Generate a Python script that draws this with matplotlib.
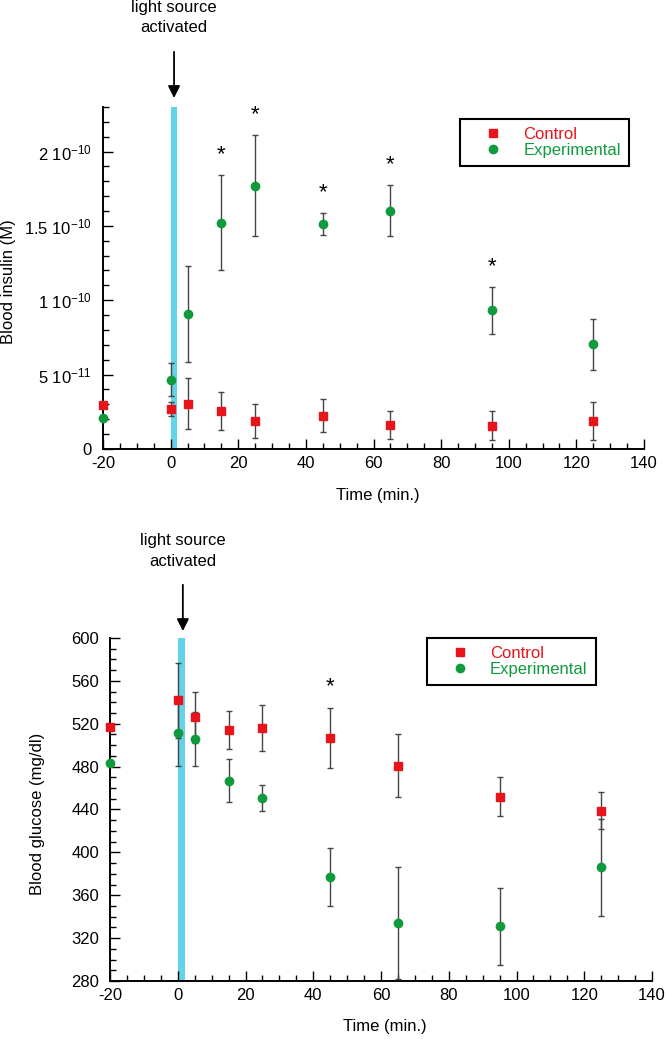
import matplotlib
matplotlib.use("Agg")
import matplotlib.pyplot as plt
from matplotlib.lines import Line2D
from matplotlib.ticker import FixedLocator, FixedFormatter, MultipleLocator

plt.rcParams['font.family'] = ['Liberation Sans', 'DejaVu Sans']
plt.rcParams['mathtext.fontset'] = 'custom'
plt.rcParams['mathtext.rm'] = 'Liberation Sans'
plt.rcParams['mathtext.it'] = 'Liberation Sans:italic'
plt.rcParams['axes.unicode_minus'] = False

# time points (min.)
time = [-20, 0, 5, 15, 25, 45, 65, 95, 125]

# blood insulin (M)
ins_ctrl = [2.98e-11, 2.69e-11, 3.05e-11, 2.56e-11, 1.89e-11, 2.23e-11, 1.62e-11, 1.56e-11, 1.89e-11]
ins_ctrl_err = [0, 0.45e-11, 1.7e-11, 1.27e-11, 1.13e-11, 1.1e-11, 0.94e-11, 0.97e-11, 1.29e-11]
ins_exp = [2.11e-11, 4.65e-11, 9.08e-11, 15.22e-11, 17.69e-11, 15.13e-11, 16.02e-11, 9.32e-11, 7.03e-11]
ins_exp_err = [0, 1.1e-11, 3.2e-11, 3.2e-11, 3.4e-11, 0.72e-11, 1.7e-11, 1.56e-11, 1.72e-11]
ins_star_times = [15, 25, 45, 65, 95]

# blood glucose (mg/dl)
glu_ctrl = [517, 542, 526, 514, 516, 507, 481, 452, 439]
glu_ctrl_err = [0, 35, 24, 18, 21, 28, 29, 18, 17]
glu_exp = [483, 511, 506, 467, 451, 377, 334, 331, 386]
glu_exp_err = [0, 30, 25, 20, 12, 27, 52, 36, 45]
glu_star_times = [45]

red = '#e8141c'
green = '#109a3e'
cyan = '#62d3e8'

fig = plt.figure(figsize=(6.66, 10.39), dpi=100)


def panel(ax, ctrl, ctrl_err, exp, exp_err, arrow_x, text_y):
    ax.axvspan(0, 2, color=cyan, lw=0, zorder=1)
    for vals, errs, m, c, ms in [(ctrl, ctrl_err, 's', red, 5.5), (exp, exp_err, 'o', green, 6)]:
        eb = ax.errorbar(time, vals, yerr=errs, fmt=m, color=c, ms=ms,
                         ecolor='#444444', elinewidth=1, capsize=2.5, capthick=1,
                         zorder=3)
        eb[0].set_clip_on(False)
    for s in ['top', 'right']:
        ax.spines[s].set_visible(False)
    for s in ['left', 'bottom']:
        ax.spines[s].set_linewidth(1.4)
    ax.set_xlim(-20, 140)
    ax.xaxis.set_major_locator(MultipleLocator(20))
    ax.xaxis.set_minor_locator(MultipleLocator(5))
    ax.tick_params(which='both', direction='in', labelsize=12, width=1)
    ax.tick_params(which='major', length=7)
    ax.tick_params(which='minor', length=4)
    ax.tick_params(axis='x', pad=5)
    ax.tick_params(axis='y', pad=8)
    ax.annotate('', xy=(arrow_x, text_y[0]), xytext=(arrow_x, text_y[1]),
                xycoords=('data', 'axes fraction'),
                arrowprops=dict(arrowstyle='-|>', color='black', lw=1.3,
                                mutation_scale=18, shrinkA=0, shrinkB=0),
                annotation_clip=False)
    ax.text(arrow_x, text_y[2], 'light source\nactivated', ha='center', va='center',
            fontsize=12, linespacing=1.45,
            transform=ax.get_xaxis_transform())
    ax.set_xlabel('Time (min.)', fontsize=12)


def stars(ax, times, vals, errs):
    for t in times:
        i = time.index(t)
        ax.annotate('*', xy=(t, vals[i] + errs[i]), xytext=(0, 11),
                    textcoords='offset points', ha='center', va='baseline',
                    fontsize=16, annotation_clip=False)


def legend(ax, anchor):
    handles = [Line2D([], [], ls='none', marker='s', ms=5.5, color=red),
               Line2D([], [], ls='none', marker='o', ms=6, color=green)]
    leg = ax.legend(handles, ['Control', 'Experimental'], loc='upper left',
                    bbox_to_anchor=anchor, fontsize=12,
                    frameon=True, fancybox=False, edgecolor='black',
                    framealpha=1, borderpad=0.5, labelspacing=0.05,
                    handlelength=3.0, handletextpad=0.3, borderaxespad=0)
    leg.get_frame().set_linewidth(1.5)
    for txt, c in zip(leg.get_texts(), [red, green]):
        txt.set_color(c)
    return leg


# top: insulin
ax1 = fig.add_axes([0.1547, 0.5679, 0.8123, 0.3292])
panel(ax1, ins_ctrl, ins_ctrl_err, ins_exp, ins_exp_err, 1.0, (1.026, 1.161, 1.262))
ax1.set_ylim(0, 2.3e-10)
ax1.yaxis.set_major_locator(FixedLocator([0, 5e-11, 1e-10, 1.5e-10, 2e-10]))
ax1.yaxis.set_major_formatter(FixedFormatter(
    ['0', r'5 10$^{-11}$', r'1 10$^{-10}$', r'1.5 10$^{-10}$', r'2 10$^{-10}$']))
ax1.yaxis.set_minor_locator(MultipleLocator(1e-11))
ax1.set_ylabel('Blood insulin (M)', fontsize=12)
ax1.yaxis.set_label_coords(-0.16, 0.49)
ax1.xaxis.set_label_coords(0.508, -0.114)
stars(ax1, ins_star_times, ins_exp, ins_exp_err)
legend(ax1, (0.66, 0.965))

# bottom: glucose
ax2 = fig.add_axes([0.1652, 0.0558, 0.8138, 0.3302])
panel(ax2, glu_ctrl, glu_ctrl_err, glu_exp, glu_exp_err, 1.5, (1.02, 1.155, 1.254))
ax2.set_ylim(280, 600)
ax2.yaxis.set_major_locator(MultipleLocator(40))
ax2.yaxis.set_minor_locator(MultipleLocator(10))
ax2.set_ylabel('Blood glucose (mg/dl)', fontsize=12)
ax2.yaxis.set_label_coords(-0.12, 0.487)
ax2.xaxis.set_label_coords(0.507, -0.111)
stars(ax2, glu_star_times, glu_ctrl, glu_ctrl_err)
legend(ax2, (0.584, 1.0))

fig.savefig('out.png', dpi=100)
